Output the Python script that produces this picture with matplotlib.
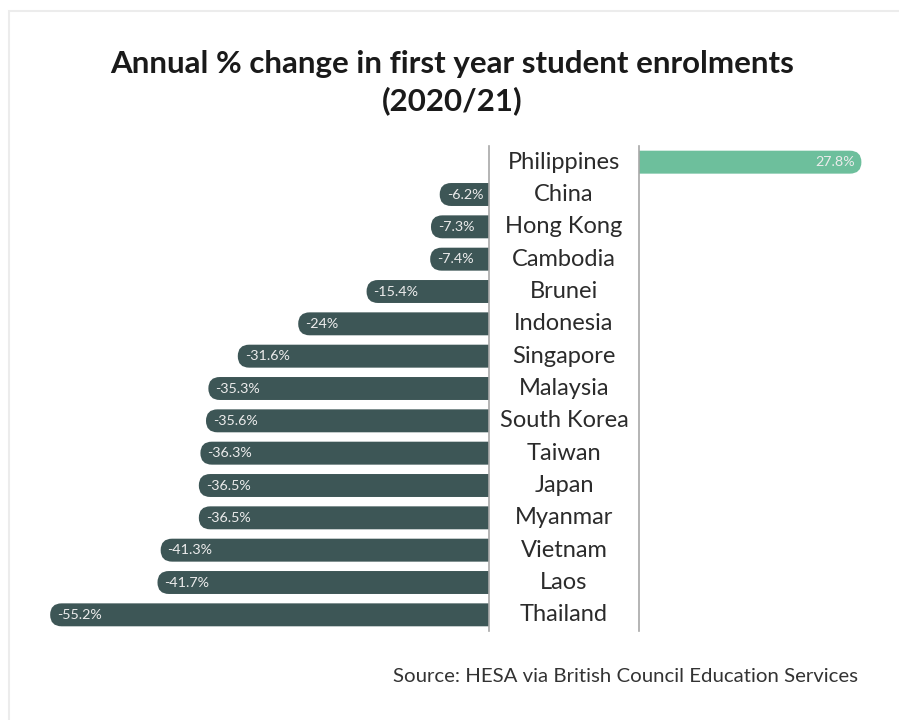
import numpy as np
import matplotlib
matplotlib.use("Agg")
import matplotlib.pyplot as plt
from matplotlib.patches import FancyBboxPatch, Rectangle

countries = ["Philippines", "China", "Hong Kong", "Cambodia", "Brunei",
             "Indonesia", "Singapore", "Malaysia", "South Korea", "Taiwan",
             "Japan", "Myanmar", "Vietnam", "Laos", "Thailand"]
changes = [27.8, -6.2, -7.3, -7.4, -15.4, -24.0, -31.6, -35.3, -35.6,
           -36.3, -36.5, -36.5, -41.3, -41.7, -55.2]
value_labels = ["27.8%", "-6.2%", "-7.3%", "-7.4%", "-15.4%", "-24%",
                "-31.6%", "-35.3%", "-35.6%", "-36.3%", "-36.5%",
                "-36.5%", "-41.3%", "-41.7%", "-55.2%"]

NEG = "#3d5656"
POS = "#6dbf9c"
GRID = "#a8a8a8"
W, H = 899, 720

plt.rcParams["font.family"] = ["Lato", "DejaVu Sans"]
fig = plt.figure(figsize=(W / 100, H / 100), dpi=100, facecolor="white")

# card border
fig.patches.append(Rectangle((9 / W, -0.1), 1.2, (H - 11) / H + 0.1,
                             transform=fig.transFigure, fill=False,
                             ec="#ececec", lw=1.5))

def px_axes(x0, x1, y0, y1):
    return fig.add_axes([x0 / W, 1 - y1 / H, (x1 - x0) / W, (y1 - y0) / H])

axL = px_axes(40, 489, 146, 631)
axR = px_axes(639, 899, 146, 631)
axL.set_xlim(-(489 - 40) / 7.95, 0)
axR.set_xlim(0, (899 - 639) / 8.0)

ypos = np.arange(len(countries))
bar_h = 0.71
for ax in (axL, axR):
    ax.set_ylim(len(countries) - 0.5, -0.5)
    ax.axis("off")

def rounded_bars(ax, bars, color, px_per_unit):
    # rounded outer end: rounding radius = half bar height (in px)
    row_px = 485 / len(countries)
    r_px = bar_h * row_px / 2
    r_x = r_px / px_per_unit
    for b in bars:
        x, y, w, h = b.get_x(), b.get_y(), b.get_width(), b.get_height()
        if w < 0:
            x, w = x + w, -w + 3   # run past the axis edge so inner end stays square
        else:
            x, w = x - 3, w + 3
        p = FancyBboxPatch((x, y), w, h,
                           boxstyle=f"round,pad=0,rounding_size={r_x}",
                           mutation_aspect=(r_px / row_px) / r_x,
                           fc=color, ec="none", clip_on=True)
        ax.add_patch(p)
        b.set_visible(False)

neg_idx = [i for i, v in enumerate(changes) if v < 0]
pos_idx = [i for i, v in enumerate(changes) if v >= 0]

barsL = axL.barh(ypos[neg_idx], [changes[i] for i in neg_idx], height=bar_h, color=NEG)
barsR = axR.barh(ypos[pos_idx], [changes[i] for i in pos_idx], height=bar_h, color=POS)
rounded_bars(axL, barsL, NEG, 7.95)
rounded_bars(axR, barsR, POS, 8.0)

for i in neg_idx:
    axL.annotate(value_labels[i], (changes[i], ypos[i]), xytext=(5, 0),
                 textcoords="offset points", ha="left", va="center",
                 color="#ececec", fontsize=10.3)
for i in pos_idx:
    axR.annotate(value_labels[i], (changes[i], ypos[i]), xytext=(-5, 0),
                 textcoords="offset points", ha="right", va="center",
                 color="#ececec", fontsize=10.3)

# divider lines
axL.axvline(0, color=GRID, lw=1.2, clip_on=False)
axR.axvline(0, color=GRID, lw=1.2, clip_on=False)

# country names in the gap between the two panels
for i, name in enumerate(countries):
    axL.annotate(name, (0, ypos[i]), xytext=(564 - 489, 0),
                 textcoords="offset pixels", ha="center", va="center",
                 color="#2b2b2b", fontsize=17, annotation_clip=False)

fig.text(452 / W, 1 - 64 / H, "Annual % change in first year student enrolments",
         ha="center", va="center", fontsize=22.5, fontweight="bold", color="#1a1a1a")
fig.text(452 / W, 1 - 101 / H, "(2020/21)",
         ha="center", va="center", fontsize=22.5, fontweight="bold", color="#1a1a1a")
fig.text(858 / W, 1 - 677 / H, "Source: HESA via British Council Education Services",
         ha="right", va="center", fontsize=14.7, color="#333333")

fig.savefig("out.png", dpi=100, facecolor="white")
